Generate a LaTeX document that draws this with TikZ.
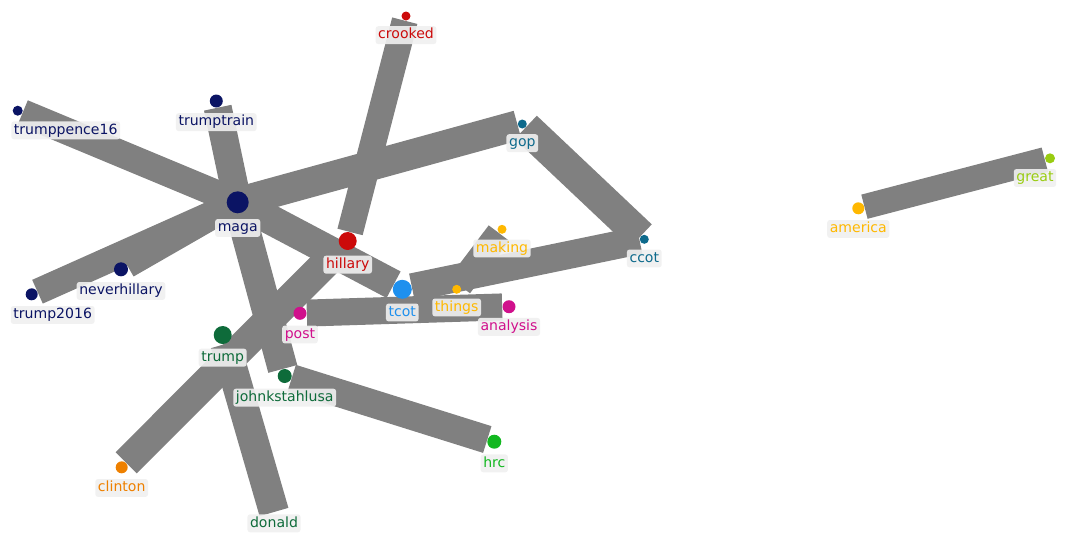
\documentclass[tikz,border=0pt]{standalone}
\usepackage{fontspec}
\setmainfont{DejaVu Sans}
\usepackage{tikz}
\usetikzlibrary{positioning, backgrounds}

\definecolor{navyc}{HTML}{0B1464}
\definecolor{redc}{HTML}{CC0A0A}
\definecolor{tealc}{HTML}{0E6A8C}
\definecolor{yellowc}{HTML}{FFB800}
\definecolor{bluec}{HTML}{1E90EE}
\definecolor{magentac}{HTML}{D0108C}
\definecolor{darkgreenc}{HTML}{0E6B3A}
\definecolor{greenc}{HTML}{12B820}
\definecolor{orangec}{HTML}{EE8000}
\definecolor{limec}{HTML}{99CC11}
\definecolor{bandgray}{HTML}{808080}
\definecolor{labelbg}{HTML}{F0F0F0}

\begin{document}
\begin{tikzpicture}[
    x=0.02cm, y=-0.02cm,
    tagdot/.style={circle, fill, inner sep=0pt, minimum size=#1},
    taglabel/.style={rectangle, rounded corners=1.5pt, fill=labelbg, fill opacity=0.9, text opacity=1, inner xsep=1.5pt, inner ysep=1.2pt, text height=6pt, text depth=1.8pt, font=\fontsize{8}{9}\selectfont},
    edgeband/.style={draw=bandgray, line width=#1, line cap=butt},
    edgeband/.default=0.56cm,
]
    \useasboundingbox (0,0) rectangle (1069,539);

    % Hashtags
    \node[tagdot=0.44cm, navyc] (maga) at (237.7,202.3) {};
    \node[tagdot=0.2cm, navyc] (trumppence16) at (17.7,110.7) {};
    \node[tagdot=0.26cm, navyc] (trumptrain) at (216.3,101) {};
    \node[tagdot=0.28cm, navyc] (neverhillary) at (121,269.3) {};
    \node[tagdot=0.24cm, navyc] (trump2016) at (31.7,294.3) {};
    \node[tagdot=0.18cm, redc] (crooked) at (406,16) {};
    \node[tagdot=0.36cm, redc] (hillary) at (347.7,241) {};
    \node[tagdot=0.18cm, tealc] (gop) at (522.3,124) {};
    \node[tagdot=0.18cm, tealc] (ccot) at (644.3,239.3) {};
    \node[tagdot=0.18cm, yellowc] (making) at (502,229.3) {};
    \node[tagdot=0.18cm, yellowc] (things) at (456.7,289.3) {};
    \node[tagdot=0.38cm, bluec] (tcot) at (402.3,289.3) {};
    \node[tagdot=0.26cm, magentac] (analysis) at (509,306.7) {};
    \node[tagdot=0.26cm, magentac] (post) at (300,313.3) {};
    \node[tagdot=0.36cm, darkgreenc] (trump) at (222.7,335) {};
    \node[tagdot=0.28cm, darkgreenc] (johnkstahlusa) at (284.7,376) {};
    \coordinate (donald) at (274,512);
    \node[tagdot=0.28cm, greenc] (hrc) at (494.3,441.7) {};
    \node[tagdot=0.24cm, orangec] (clinton) at (121.7,467.3) {};
    \node[tagdot=0.24cm, yellowc] (america) at (858.3,208.3) {};
    \node[tagdot=0.2cm, limec] (great) at (1050,158.3) {};

    % Co-occurrence bands
    \begin{scope}[on background layer]
        \draw[edgeband=0.54cm] (trumppence16) -- (maga.center);
        \draw[edgeband=0.56cm] (trumptrain) -- (maga.center);
        \draw[edgeband=0.52cm] (trump2016) -- (maga.center);
        \draw[edgeband=0.5cm] (neverhillary) -- (maga.center);
        \draw[edgeband=0.6cm] (maga.center) -- (gop);
        \draw[edgeband=0.6cm] (maga.center) -- (tcot);
        \draw[edgeband=0.6cm] (maga.center) -- (johnkstahlusa);
        \draw[edgeband=0.64cm] (gop) -- (ccot);
        \draw[edgeband] (ccot) -- (tcot);
        \draw[edgeband=0.52cm] (making) -- (things);
        \draw[edgeband=0.52cm] (crooked) -- (hillary);
        \draw[edgeband=0.6cm] (hillary) -- (clinton);
        \draw[edgeband=0.54cm] (post) -- (analysis);
        \draw[edgeband=0.56cm] (johnkstahlusa) -- (hrc);
        \draw[edgeband=0.6cm] (trump) -- (donald);
        \draw[edgeband=0.5cm] (america) -- (great);
    \end{scope}

    % Labels
    \node[taglabel, below=0.1cm of maga, text=navyc] (maga-lbl) {maga};
    \node[taglabel, below=0.1cm of trumppence16, xshift=0.96cm, text=navyc] (trumppence16-lbl) {trumppence16};
    \node[taglabel, below=0.1cm of trumptrain, text=navyc] (trumptrain-lbl) {trumptrain};
    \node[taglabel, below=0.1cm of neverhillary, text=navyc] (neverhillary-lbl) {neverhillary};
    \node[taglabel, below=0.1cm of trump2016, xshift=0.42cm, text=navyc] (trump2016-lbl) {trump2016};
    \node[taglabel, below=0.1cm of crooked, text=redc] (crooked-lbl) {crooked};
    \node[taglabel, below=0.1cm of hillary, text=redc] (hillary-lbl) {hillary};
    \node[taglabel, below=0.1cm of gop, text=tealc] (gop-lbl) {gop};
    \node[taglabel, below=0.1cm of ccot, text=tealc] (ccot-lbl) {ccot};
    \node[taglabel, below=0.1cm of making, text=yellowc] (making-lbl) {making};
    \node[taglabel, below=0.08cm of things, text=yellowc] (things-lbl) {things};
    \node[taglabel, below=0.08cm of tcot, text=bluec] (tcot-lbl) {tcot};
    \node[taglabel, below=0.08cm of analysis, text=magentac] (analysis-lbl) {analysis};
    \node[taglabel, below=0.1cm of post, text=magentac] (post-lbl) {post};
    \node[taglabel, below=0.08cm of trump, text=darkgreenc] (trump-lbl) {trump};
    \node[taglabel, below=0.1cm of johnkstahlusa, text=darkgreenc] (johnkstahlusa-lbl) {johnkstahlusa};
    \node[taglabel, below=0.04cm of donald, text=darkgreenc] (donald-lbl) {donald};
    \node[taglabel, below=0.1cm of hrc, text=greenc] (hrc-lbl) {hrc};
    \node[taglabel, below=0.1cm of clinton, text=orangec] (clinton-lbl) {clinton};
    \node[taglabel, below=0.1cm of america, text=yellowc] (america-lbl) {america};
    \node[taglabel, below=0.1cm of great, xshift=-0.3cm, text=limec] (great-lbl) {great};
\end{tikzpicture}
\end{document}
